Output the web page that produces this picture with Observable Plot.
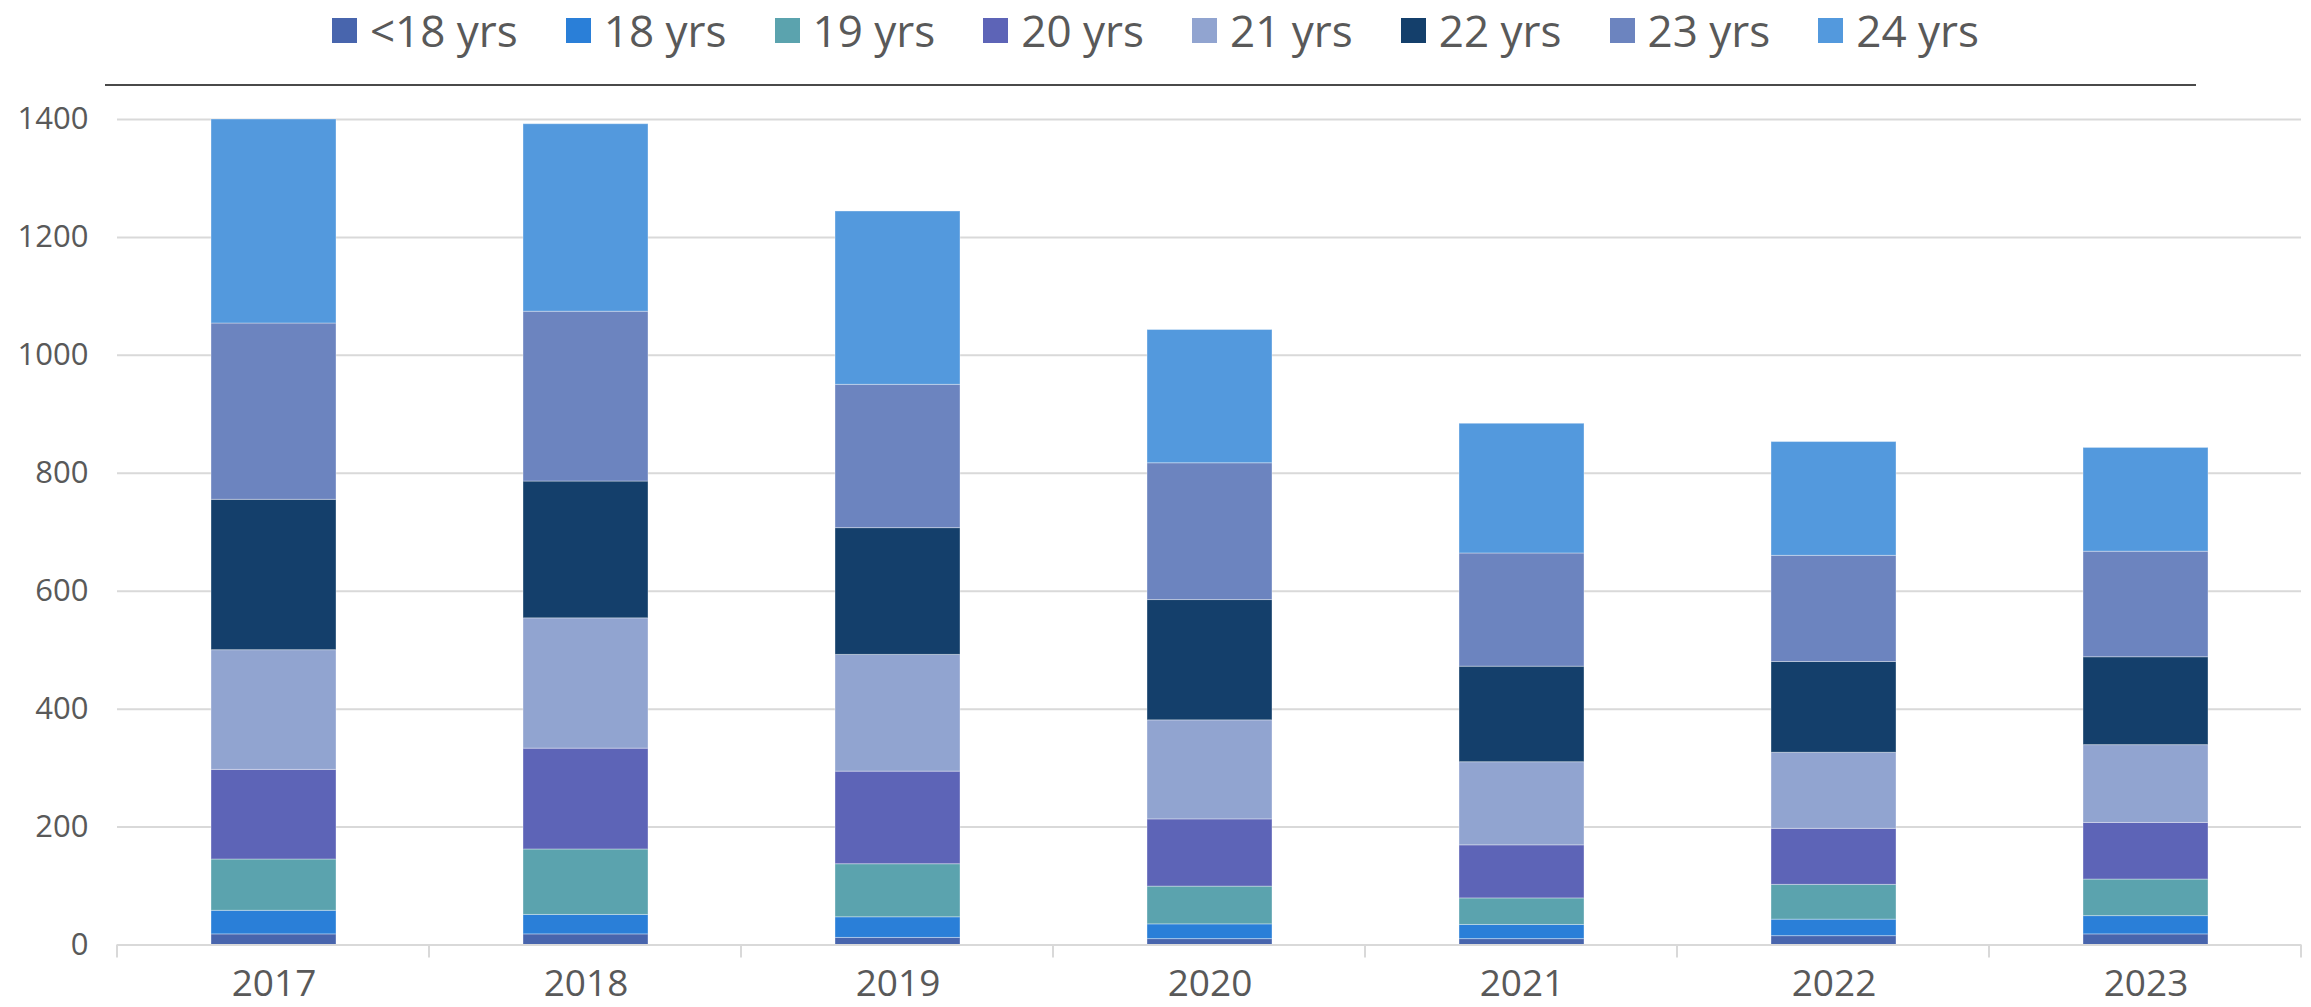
<!DOCTYPE html>
<html>
<head>
<meta charset="utf-8">
<script src="https://cdn.jsdelivr.net/npm/d3@7"></script>
<script src="https://cdn.jsdelivr.net/npm/@observablehq/plot@0.6"></script>
<style>
  html, body { margin: 0; padding: 0; background: #ffffff; }
  body { width: 2311px; height: 1007px; overflow: hidden; font-family: "Open Sans", sans-serif; }
  #legend { position: relative; width: 2311px; height: 86px; }
  #legend .items { position: absolute; left: 0; top: 0; width: 2311px; height: 60px;
    display: flex; justify-content: center; align-items: center; gap: 48px; }
  #legend .item { display: flex; align-items: center; height: 60px; }
  #legend .sw { width: 25px; height: 25px; display: inline-block; }
  #legend .lab { display: inline-block; margin-left: 13px; font-size: 44px; line-height: 60px; color: #595959; white-space: nowrap; }
  #legend .rule { position: absolute; left: 105px; width: 2091px; top: 84px; height: 2px; background: #4a4a4a; }
  #chart svg { display: block; }
</style>
</head>
<body>
<div id="legend"><div class="items"></div><div class="rule"></div></div>
<div id="chart"></div>
<script>
// Categories
const years = ["2017", "2018", "2019", "2020", "2021", "2022", "2023"];
const ageGroups = ["<18 yrs", "18 yrs", "19 yrs", "20 yrs", "21 yrs", "22 yrs", "23 yrs", "24 yrs"];
const groupColors = ["#4865AD", "#2A7FD8", "#5BA3AE", "#5D64B7", "#91A4D0", "#143F6B", "#6C84BF", "#5399DD"];

// Series values (per year, 2017..2023)
const under18 = [18, 18, 12, 10, 10, 15, 18];
const age18   = [40, 33, 35, 25, 24, 28, 31];
const age19   = [87, 111, 90, 64, 45, 59, 62];
const age20   = [152, 171, 157, 114, 90, 95, 96];
const age21   = [203, 221, 198, 168, 141, 129, 132];
const age22   = [255, 232, 215, 204, 162, 154, 149];
const age23   = [299, 288, 243, 232, 192, 180, 179];
const age24   = [346, 318, 294, 226, 220, 193, 176];

// Tick labels
const yTicks = [0, 200, 400, 600, 800, 1000, 1200, 1400];

const seriesValues = [under18, age18, age19, age20, age21, age22, age23, age24];
const table = [];
ageGroups.forEach((g, gi) => {
  years.forEach((y, yi) => table.push({year: y, group: g, value: seriesValues[gi][yi]}));
});

// Legend (HTML, above the SVG)
const items = d3.select("#legend .items");
ageGroups.forEach((g, i) => {
  const it = items.append("div").attr("class", "item");
  it.append("span").attr("class", "sw").style("background", groupColors[i]);
  it.append("span").attr("class", "lab").text(g);
});

const chart = Plot.plot({
  width: 2311,
  height: 921,
  marginLeft: 117,
  marginRight: 10,
  marginTop: 33,
  marginBottom: 62.5,
  style: {fontFamily: "Open Sans, sans-serif", color: "#595959", background: "#ffffff"},
  x: {domain: years, paddingInner: 0.6, paddingOuter: 0.3, align: 0.5, label: null},
  y: {domain: [0, 1400], label: null},
  color: {domain: ageGroups, range: groupColors},
  marks: [
    Plot.gridY(yTicks, {stroke: "#d9d9d9", strokeOpacity: 1, strokeWidth: 2}),
    Plot.barY(table, {x: "year", y: "value", fill: "group", stroke: "#ffffff", strokeOpacity: 0.35, strokeWidth: 1}),
    Plot.ruleY([0], {stroke: "#d9d9d9", strokeWidth: 2}),
    Plot.axisY(yTicks, {tickSize: 0, tickPadding: 29, fontSize: 31, fill: "#595959", tickFormat: d => String(d), label: null}),
    Plot.axisX({tickSize: 0, tickPadding: 25, fontSize: 37, fill: "#595959", label: null})
  ]
});
document.getElementById("chart").appendChild(chart);

// Category boundary ticks on the x axis, derived from the band scale
const xs = chart.scale("x");
const ys = chart.scale("y");
const band = d3.scaleBand(xs.domain, xs.range)
  .paddingInner(xs.paddingInner).paddingOuter(xs.paddingOuter).align(xs.align);
const y0 = ys.apply ? ys.apply(0) : d3.scaleLinear(ys.domain, ys.range)(0);
const half = (band.step() - band.bandwidth()) / 2;
const bounds = years.map(y => band(y) - half).concat([band(years[years.length - 1]) + band.bandwidth() + half]);
d3.select(chart).append("g")
  .selectAll("line").data(bounds).join("line")
  .attr("x1", d => d).attr("x2", d => d)
  .attr("y1", y0).attr("y2", y0 + 13)
  .attr("stroke", "#d9d9d9").attr("stroke-width", 2);
</script>
</body>
</html>
